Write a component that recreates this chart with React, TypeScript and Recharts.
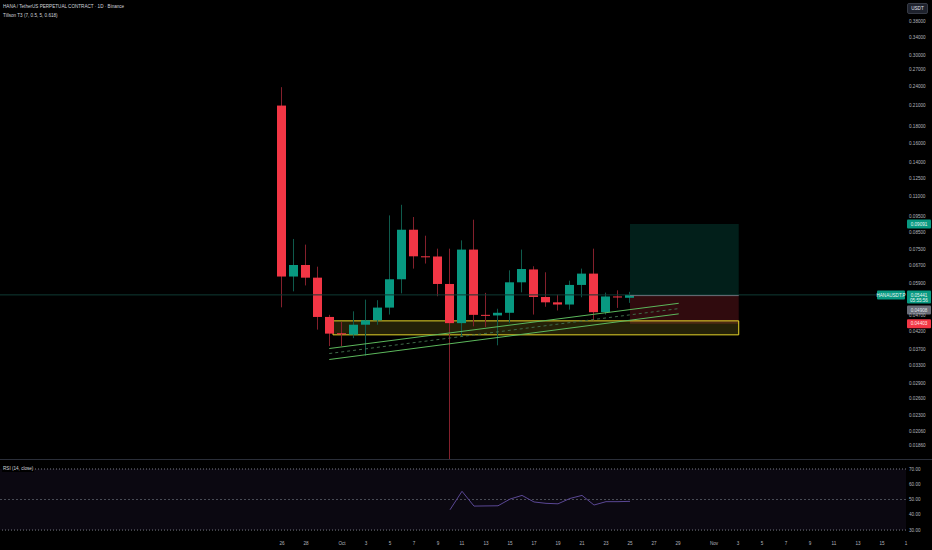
import React from 'react';
import { ComposedChart, Bar, Line, XAxis, YAxis, ReferenceLine, ReferenceArea } from 'recharts';

// ---- data (day index 0 = Sep 26) ----
const days = [0, 1, 2, 3, 4, 5, 6, 7, 8, 9, 10, 11, 12, 13, 14, 15, 16, 17, 18, 19, 20, 21, 22, 23, 24, 25, 26, 27, 28, 29];
const opens = [0.2093, 0.062, 0.0673, 0.0615, 0.0465, 0.0414, 0.041, 0.044, 0.0454, 0.0497, 0.0608, 0.0865, 0.0716, 0.0715, 0.0588, 0.0445, 0.0751, 0.0472, 0.047, 0.0479, 0.0595, 0.0652, 0.0536, 0.0516, 0.0508, 0.0584, 0.0633, 0.0481, 0.0538, 0.0533];
const highs = [0.2386, 0.081, 0.0778, 0.0665, 0.0472, 0.0449, 0.0484, 0.0526, 0.0524, 0.0958, 0.1033, 0.0947, 0.0829, 0.0756, 0.0756, 0.0802, 0.0929, 0.0552, 0.0493, 0.0648, 0.0751, 0.0667, 0.0639, 0.0545, 0.0602, 0.0656, 0.0756, 0.0553, 0.0562, 0.0556];
const lows = [0.0498, 0.0558, 0.0582, 0.0425, 0.0378, 0.0378, 0.04, 0.0353, 0.044, 0.0473, 0.055, 0.0656, 0.068, 0.0539, 0.0169, 0.0405, 0.0435, 0.0433, 0.038, 0.0446, 0.0554, 0.0473, 0.05, 0.0487, 0.049, 0.0535, 0.0454, 0.0473, 0.0496, 0.0514];
const closes = [0.062, 0.0673, 0.0615, 0.0465, 0.0413, 0.0411, 0.044, 0.0454, 0.0497, 0.0608, 0.0865, 0.0716, 0.0712, 0.0588, 0.0445, 0.0751, 0.0472, 0.0469, 0.0479, 0.0595, 0.0654, 0.0536, 0.0516, 0.0508, 0.0584, 0.0633, 0.0481, 0.0538, 0.0535, 0.0544];

const rsiDays = [14, 15, 16, 17, 18, 19, 20, 21, 22, 23, 24, 25, 26, 27, 28, 29];
const rsiValues = [43.3, 55.4, 45.7, 45.8, 45.9, 50.3, 52.7, 48.4, 47.5, 47.2, 50.7, 52.7, 46.4, 48.6, 48.6, 48.8];

const priceTicks = [0.38, 0.34, 0.3, 0.27, 0.24, 0.21, 0.18, 0.16, 0.14, 0.125, 0.11, 0.095, 0.085, 0.075, 0.067, 0.059, 0.047, 0.042, 0.037, 0.033, 0.029, 0.026, 0.023, 0.0206, 0.0186];
const rsiTicks = [30, 40, 50, 60, 70];
const dayTicks = [0, 2, 5, 7, 9, 11, 13, 15, 17, 19, 21, 23, 25, 27, 29, 31, 33, 36, 38, 40, 42, 44, 46, 48, 50, 52];
const dayTickLabels = ['26', '28', 'Oct', '3', '5', '7', '9', '11', '13', '15', '17', '19', '21', '23', '25', '27', '29', 'Nov', '3', '5', '7', '9', '11', '13', '15', '1'];

// overlays
const currentPrice = 0.05441;
const targetPrice = 0.0901;
const entryPrice = 0.05413;
const stopPrice = 0.0443;
const greyPrice = 0.0489;
const zoneLow = 0.04094;
const zoneHigh = 0.04522;
const zoneStart = 4.25;
const toolStart = 29;
const toolEnd = 38.06;
const trendLower = [{ x: 3.94, y: 0.03435 }, { x: 33.06, y: 0.04753 }];
const trendUpper = [{ x: 3.94, y: 0.03714 }, { x: 33.06, y: 0.05125 }];
const trendMid = [{ x: 3.94, y: 0.03584 }, { x: 33.06, y: 0.04935 }];

const candleData = days.map((d, i) => ({ d, o: opens[i], h: highs[i], l: lows[i], c: closes[i], range: [lows[i], highs[i]] }));
const rsiData = rsiDays.map((d, i) => ({ d, v: rsiValues[i] }));

const X_DOMAIN: [number, number] = [-23.5, 52];
const UP = '#089981';
const DN = '#f23645';
const UP_WICK = '#0f5a4c';
const DN_WICK = '#84202c';
const AXIS_TEXT = '#b2b5be';
const FONT = "'Liberation Sans', Arial, sans-serif";
const FS = 4.6;

const Candle = (props: any) => {
  const { x, y, width, height, payload } = props;
  if (!payload || !isFinite(y) || !isFinite(height)) return null;
  const { o, h, l, c } = payload;
  const lnH = Math.log(h);
  const lnL = Math.log(l);
  const py = (v: number) => y + (height * (lnH - Math.log(v))) / (lnH - lnL);
  const cx = Math.floor(x + width / 2);
  const up = c >= o;
  const top = py(Math.max(o, c));
  const bot = py(Math.min(o, c));
  const bh = Math.max(1, bot - top);
  return (
    <g>
      <rect x={cx} y={y} width={1} height={height} fill={up ? UP_WICK : DN_WICK} stroke="none" />
      <rect x={cx - 4} y={top} width={9} height={bh} fill={up ? UP : DN} stroke="none" />
    </g>
  );
};

const priceTag = (text: string, bg: string, fg: string, text2?: string, extra?: boolean) => (props: any) => {
  const vb = props.viewBox || {};
  const y = vb.y;
  const x = (vb.x || 0) + (vb.width || 0) + 1;
  const h = text2 ? 13 : 9;
  return (
    <g style={{ fontFamily: FONT }}>
      {extra && (
        <g>
          <rect x={x - 30} y={y - 4.5} width={28} height={9} rx={1} fill={bg} />
          <text x={x - 16} y={y + 1.7} textAnchor="middle" fontSize={FS} fill={fg}>HANAUSDT.P</text>
        </g>
      )}
      <rect x={x} y={y - 4.5} width={24} height={h} rx={1} fill={bg} />
      <text x={x + 12} y={y + 1.7} textAnchor="middle" fontSize={FS} fill={fg}>{text}</text>
      {text2 && (
        <text x={x + 12} y={y + 7.5} textAnchor="middle" fontSize={FS} fill={fg}>{text2}</text>
      )}
    </g>
  );
};

const fmtPrice = (v: number) => v.toFixed(5);
const fmtDay = (v: number) => {
  const i = dayTicks.indexOf(v);
  return i >= 0 ? dayTickLabels[i] : '';
};

export default function App() {
  return (
    <div style={{ position: 'absolute', left: 0, top: 0, width: 932, height: 550, background: '#000', overflow: 'hidden', fontFamily: FONT }}>
      <ComposedChart width={932} height={460} data={candleData} margin={{ top: 0, right: 0, left: 0, bottom: 0 }}>
        <XAxis dataKey="d" type="number" domain={X_DOMAIN} hide allowDataOverflow />
        <YAxis
          orientation="right"
          width={26}
          scale="log"
          domain={[0.0168, 0.4437]}
          allowDataOverflow
          ticks={priceTicks}
          tickFormatter={fmtPrice}
          interval={0}
          axisLine={false}
          tickLine={false}
          tickSize={0}
          tickMargin={3}
          tick={{ fill: AXIS_TEXT, fontSize: FS, textAnchor: 'start' } as any}
        />
        <ReferenceArea x1={toolStart} x2={toolEnd} y1={entryPrice} y2={targetPrice} fill={UP} fillOpacity={0.2} stroke="none" />
        <ReferenceArea x1={toolStart} x2={toolEnd} y1={stopPrice} y2={entryPrice} fill={DN} fillOpacity={0.2} stroke="none" />
        <ReferenceArea x1={zoneStart} x2={toolEnd} y1={zoneLow} y2={zoneHigh} fill="#ffeb3b" fillOpacity={0.14} stroke="#e6d52a" strokeWidth={1} />
        <ReferenceLine y={currentPrice} stroke="#0f3b34" strokeWidth={1} label={priceTag('0.05441', UP, '#e8f5f2', '05:55:56', true)} />
        <ReferenceLine segment={[{ x: toolStart, y: entryPrice }, { x: toolEnd, y: entryPrice }]} stroke="#6b6e78" strokeWidth={1} />
        <ReferenceLine y={targetPrice} stroke="none" label={priceTag('0.09091', UP, '#e8f5f2')} />
        <ReferenceLine y={greyPrice} stroke="none" label={priceTag('0.04908', '#6a6d78', '#e0e3eb')} />
        <ReferenceLine y={stopPrice} stroke="none" label={priceTag('0.04403', DN, '#ffe8ea')} />
        <Bar dataKey="range" barSize={9} shape={Candle} isAnimationActive={false} />
        <ReferenceLine segment={trendLower} stroke="#5cb85c" strokeWidth={1} />
        <ReferenceLine segment={trendUpper} stroke="#5cb85c" strokeWidth={1} />
        <ReferenceLine segment={trendMid} stroke="#3f6b49" strokeWidth={1} strokeDasharray="3 3" />
      </ComposedChart>

      <div style={{ position: 'absolute', left: 0, top: 459, width: 932, height: 1, background: '#2a2e39' }} />

      <div style={{ position: 'absolute', left: 0, top: 460 }}>
        <ComposedChart width={932} height={90} data={rsiData} margin={{ top: 0, right: 0, left: 0, bottom: 0 }}>
          <XAxis
            dataKey="d"
            type="number"
            domain={X_DOMAIN}
            allowDataOverflow
            ticks={dayTicks}
            interval={0}
            tickFormatter={fmtDay}
            axisLine={false}
            tickLine={false}
            tickSize={4}
            height={14}
            tick={{ fill: AXIS_TEXT, fontSize: FS }}
          />
          <YAxis
            orientation="right"
            width={26}
            domain={[26.1, 75.9]}
            allowDataOverflow
            ticks={rsiTicks}
            interval={0}
            tickFormatter={(v: number) => v.toFixed(2)}
            axisLine={false}
            tickLine={false}
            tickSize={0}
            tickMargin={3}
            tick={{ fill: AXIS_TEXT, fontSize: FS, textAnchor: 'start' } as any}
          />
          <ReferenceArea y1={30} y2={70} fill="#7e57c2" fillOpacity={0.09} stroke="none" />
          <ReferenceLine y={70} stroke="#787b86" strokeDasharray="1 2" strokeWidth={1} />
          <ReferenceLine y={50} stroke="#4a4d57" strokeDasharray="2 2" strokeWidth={1} />
          <ReferenceLine y={30} stroke="#787b86" strokeDasharray="1 2" strokeWidth={1} />
          <Line dataKey="v" type="linear" stroke="#5a4794" strokeWidth={1} dot={false} isAnimationActive={false} />
        </ComposedChart>
      </div>

      <div style={{ position: 'absolute', left: 3, top: 4, color: '#d1d4dc', fontSize: 4.6, lineHeight: '6px', whiteSpace: 'nowrap' }}>
        HANA / TetherUS PERPETUAL CONTRACT · 1D · Binance
      </div>
      <div style={{ position: 'absolute', left: 3, top: 12.5, color: '#d1d4dc', fontSize: 4.6, lineHeight: '6px', whiteSpace: 'nowrap' }}>
        Tillson T3 (7, 0.5, 5, 0.618)
      </div>
      <div style={{ position: 'absolute', left: 2, top: 466, padding: '0 1px', background: '#000', color: '#d1d4dc', fontSize: 4.6, lineHeight: '6px', whiteSpace: 'nowrap' }}>
        RSI (14, close)
      </div>
      <div style={{ position: 'absolute', left: 907, top: 3, width: 21, height: 11, boxSizing: 'border-box', background: '#1e222d', border: '1px solid #363a45', borderRadius: 2, color: '#e0e3eb', fontSize: 4.6, lineHeight: '9px', textAlign: 'center' }}>
        USDT
      </div>
    </div>
  );
}
